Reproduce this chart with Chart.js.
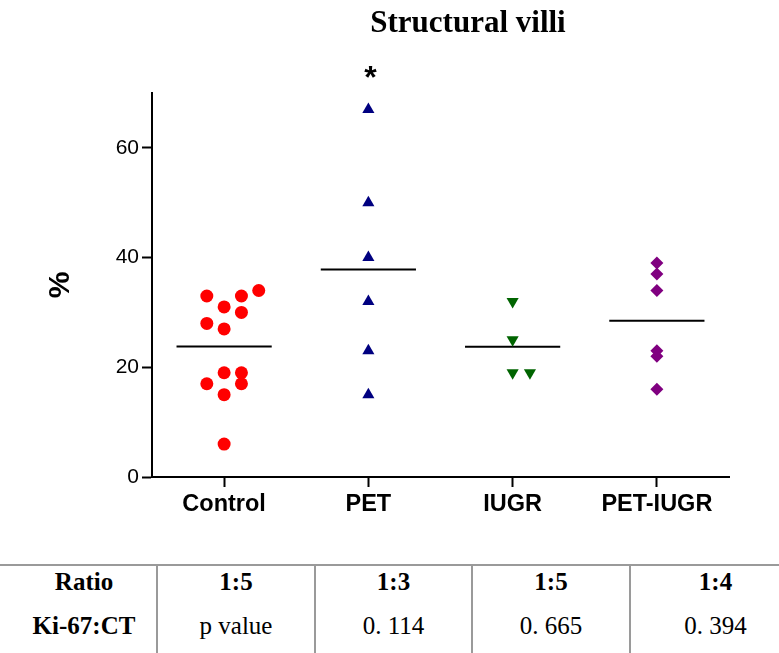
<!DOCTYPE html>
<html><head><meta charset="utf-8">
<script src="https://cdn.jsdelivr.net/npm/chart.js@4.4.1/dist/chart.umd.min.js"></script>
<style>
html,body{margin:0;padding:0;background:#fff;overflow:hidden;}
#wrap{position:relative;width:779px;height:653px;overflow:hidden;background:#fff;}
#title{position:absolute;left:268px;top:4px;width:400px;text-align:center;font-family:"Liberation Serif","Times New Roman",serif;font-weight:bold;font-size:31px;line-height:36px;color:#000;}
#cv{position:absolute;left:0;top:0;}
#tbl{position:absolute;left:0;top:564px;width:800px;border-collapse:collapse;table-layout:fixed;font-family:"Liberation Serif","Times New Roman",serif;font-size:25px;color:#000;border-top:2px solid #9a9a9a;}
#tbl td{padding:0;text-align:center;border-left:2px solid #9a9a9a;white-space:nowrap;}
#tbl td.first{border-left:none;padding-left:12px;}
#tbl tr.r1 td{height:31px;line-height:31px;vertical-align:middle;}
#tbl tr.r2 td{height:60px;line-height:36px;vertical-align:top;padding-top:11px;}
#tbl .b{font-weight:bold;}
</style>
</head><body>
<div id="wrap">
  <canvas id="cv" width="779" height="560"></canvas>
  <div id="title"></div>
  <table id="tbl"><colgroup><col style="width:157px"><col style="width:158px"><col style="width:157px"><col style="width:158px"><col style="width:170px"></colgroup><tbody></tbody></table>
</div>
<script>
// ---- data ----
const chartTitle = 'Structural villi';
const yAxisLabel = '%';
const categories = ['Control', 'PET', 'IUGR', 'PET-IUGR'];
const controlValues = [34, 33, 33, 31, 30, 28, 27, 19, 19, 17, 17, 15, 6];
const controlSlots  = [2, -1, 1, 0, 1, -1, 0, 0, 1, -1, 1, 0, 0];
const petValues = [67, 50, 40, 32, 23, 15];
const petSlots  = [0, 0, 0, 0, 0, 0];
const iugrValues = [32, 25, 19, 19];
const iugrSlots  = [0, 0, 0, 1];
const petIugrValues = [39, 37, 34, 23, 22, 16];
const petIugrSlots  = [0, 0, 0, 0, 0, 0];
const significance = ['', '*', '', ''];
const yTicks = [0, 20, 40, 60];
const tableRow1 = ['Ratio', '1:5', '1:3', '1:5', '1:4'];
const tableRow2 = ['Ki-67:CT', 'p value', '0. 114', '0. 665', '0. 394'];

// ---- rendering ----
document.getElementById('title').textContent = chartTitle;
const tb = document.querySelector('#tbl tbody');
[[tableRow1, 'r1', true], [tableRow2, 'r2', false]].forEach(([row, cls, bold]) => {
  const tr = document.createElement('tr'); tr.className = cls;
  row.forEach((t, i) => {
    const td = document.createElement('td');
    td.textContent = t;
    if (i === 0) td.classList.add('first');
    if (bold || i === 0) td.classList.add('b');
    tr.appendChild(td);
  });
  tb.appendChild(tr);
});

const SLOT = 0.12, HALF = 0.33;
const FONT = '"Liberation Sans", Arial, sans-serif';
const groups = [
  {vals: controlValues, slots: controlSlots, color: '#ff0000', style: 'circle', r: 6.5, rot: 0},
  {vals: petValues, slots: petSlots, color: '#000080', style: 'triangle', r: 7, rot: 0},
  {vals: iugrValues, slots: iugrSlots, color: '#006400', style: 'triangle', r: 7, rot: 180},
  {vals: petIugrValues, slots: petIugrSlots, color: '#800080', style: 'rectRot', r: 6.5, rot: 0}
];
const mean = a => a.reduce((s, v) => s + v, 0) / a.length;
const datasets = [];
groups.forEach((g, i) => {
  datasets.push({
    type: 'scatter', label: categories[i],
    data: g.vals.map((v, k) => ({x: i + g.slots[k] * SLOT, y: v})),
    pointStyle: g.style, pointRadius: g.r, pointRotation: g.rot,
    backgroundColor: g.color, borderColor: g.color, borderWidth: 0
  });
  const m = mean(g.vals);
  datasets.push({
    type: 'line', label: categories[i] + ' mean',
    data: [{x: i - HALF, y: m}, {x: i + HALF, y: m}],
    borderColor: '#000', borderWidth: 2, pointRadius: 0, fill: false
  });
});

const sigPlugin = {
  id: 'sig',
  afterDatasetsDraw(chart) {
    const {ctx, scales: {x, y}} = chart;
    ctx.save();
    ctx.fillStyle = '#000';
    ctx.font = 'bold 32px ' + FONT;
    ctx.textAlign = 'center';
    ctx.textBaseline = 'alphabetic';
    significance.forEach((s, i) => {
      if (!s) return;
      const top = Math.max(...groups[i].vals);
      ctx.fillText(s, x.getPixelForValue(i) + 2, y.getPixelForValue(top) - 21);
    });
    ctx.restore();
  }
};

const axisGrid = {display: true, drawOnChartArea: false, drawTicks: true, tickLength: 10, tickWidth: 2, tickColor: '#000', color: '#000'};
new Chart(document.getElementById('cv'), {
  type: 'scatter',
  data: {datasets},
  options: {
    responsive: false, animation: false,
    layout: {padding: {top: 93, right: 50, bottom: 0, left: 0}},
    plugins: {legend: {display: false}, tooltip: {enabled: false}, title: {display: false}},
    scales: {
      x: {
        type: 'linear', min: -0.5, max: 3.5,
        afterBuildTicks: s => { s.ticks = categories.map((c, i) => ({value: i})); },
        afterFit: s => { s.height = 83; },
        ticks: {callback: v => categories[v], color: '#000', font: {family: FONT, size: 23.5, weight: 'bold'}, padding: 3, maxRotation: 0, autoSkip: false},
        grid: axisGrid,
        border: {display: true, color: '#000', width: 2}
      },
      y: {
        min: 0, max: 70,
        afterBuildTicks: s => { s.ticks = yTicks.map(v => ({value: v})); },
        afterFit: s => { s.width = 152; },
        ticks: {color: '#000', font: {family: FONT, size: 21}, padding: 3},
        grid: axisGrid,
        border: {display: true, color: '#000', width: 2},
        title: {display: true, text: yAxisLabel, color: '#000', font: {family: FONT, size: 30, weight: 'bold'}, padding: {top: 43, bottom: 0}}
      }
    }
  },
  plugins: [sigPlugin]
});
</script>
</body></html>
